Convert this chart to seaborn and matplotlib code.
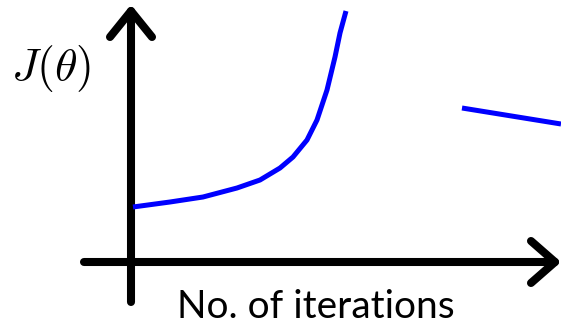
import matplotlib
matplotlib.use("Agg")
import matplotlib.pyplot as plt
import seaborn as sns

sns.set_theme(style="white")
plt.rcParams['font.family'] = ['Lato', 'DejaVu Sans']
plt.rcParams['mathtext.fontset'] = 'cm'

# Diverging cost curve (canvas units, y grows downward)
curve_x = [133, 170, 203, 237, 260, 280, 293, 307, 317, 327, 335, 340, 346]
curve_y = [207, 202, 197, 188, 180, 168, 157, 140, 120, 90, 57, 33, 11]
# Detached segment on the right
seg_x = [462, 561]
seg_y = [108, 124]

# Axes lines
yaxis_x = [131, 131]
yaxis_y = [302, 11]
xaxis_x = [84, 555]
xaxis_y = [262, 262]
yhead_x = [110, 131, 152]
yhead_y = [37, 11, 37]
xhead_x = [531, 555, 531]
xhead_y = [241, 262, 283]

fig = plt.figure(figsize=(5.61, 3.28), dpi=100)
ax = fig.add_axes([0, 0, 1, 1])
ax.set_xlim(0, 561)
ax.set_ylim(328, 0)
ax.axis("off")

kw = dict(color="black", linewidth=5.8, solid_capstyle="round", solid_joinstyle="round")
ax.plot(yaxis_x, yaxis_y, **kw)
ax.plot(xaxis_x, xaxis_y, **kw)
ax.plot(yhead_x, yhead_y, **kw)
ax.plot(xhead_x, xhead_y, **kw)

for xs, ys in [(curve_x, curve_y), (seg_x, seg_y)]:
    sns.lineplot(x=xs, y=ys, sort=False, color="#0000ff", linewidth=3.6, ax=ax,
                 estimator=None, solid_capstyle="butt")

ax.text(51, 68, r"$J(\theta)$", fontsize=33, ha="center", va="center", color="black")
ax.text(316, 307, "No. of iterations", fontsize=28, ha="center", va="center", color="black")

fig.savefig("out.png", dpi=100)
